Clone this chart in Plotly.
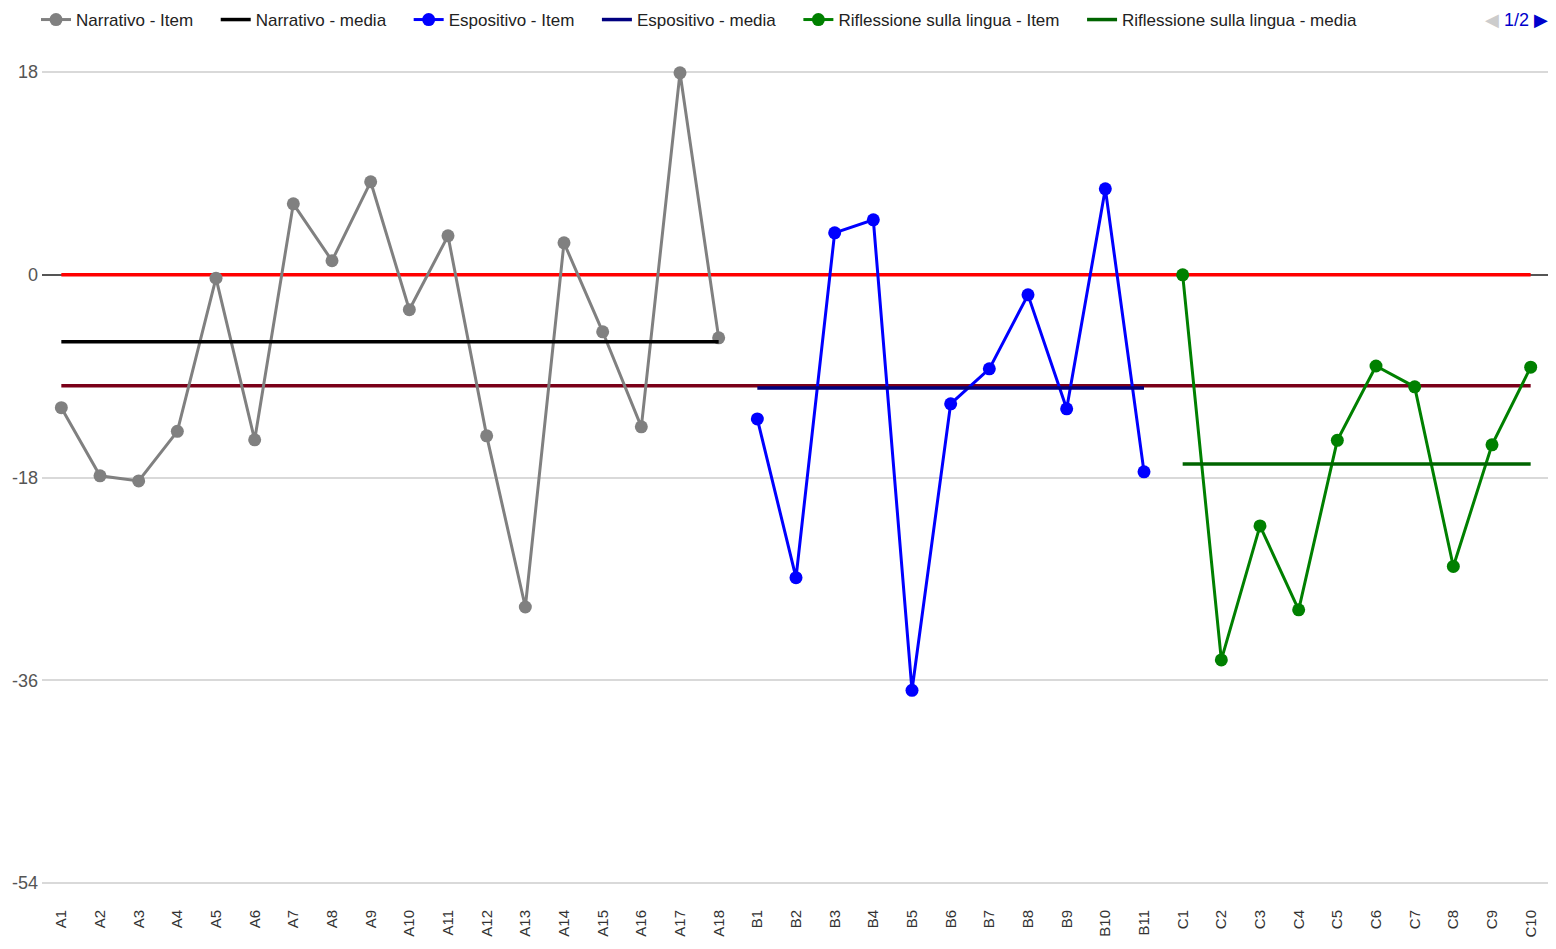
import plotly.graph_objects as go

cat_a = [f"A{i}" for i in range(1, 19)]
cat_b = [f"B{i}" for i in range(1, 12)]
cat_c = [f"C{i}" for i in range(1, 11)]
categories = cat_a + cat_b + cat_c

narrativo = [-11.8, -17.85, -18.3, -13.9, -0.3, -14.65, 6.3, 1.25, 8.26, -3.1,
             3.46, -14.3, -29.5, 2.84, -5.06, -13.5, 17.94, -5.6]
espositivo = [-12.8, -26.9, 3.73, 4.88, -36.9, -11.46, -8.35, -1.78, -11.9, 7.64, -17.5]
riflessione = [0.0, -34.2, -22.3, -29.75, -14.7, -8.1, -9.95, -25.9, -15.1, -8.2]

media_narrativo = -5.95
media_espositivo = -10.05
media_riflessione = -16.8
media_generale = -9.86
riferimento = 0.0

y_ticks = [18, 0, -18, -36, -54]

FONT = "Liberation Sans, Arial, sans-serif"
W, H = 1548, 941  # page body has an 8px margin
MT, MB = 63, 65
PH = H - MT - MB
PAD = "\u00a0" * 3 + "\u2009"

fig = go.Figure()

fig.add_trace(go.Scatter(x=categories, y=[riferimento] * len(categories), mode="lines",
                         line=dict(color="#ff0000", width=3.5), name="Riferimento",
                         showlegend=False, hoverinfo="skip"))
fig.add_trace(go.Scatter(x=categories, y=[media_generale] * len(categories), mode="lines",
                         line=dict(color="#7a0019", width=3.5), name="Media generale",
                         showlegend=False, hoverinfo="skip"))

fig.add_trace(go.Scatter(x=cat_a, y=narrativo, mode="lines+markers", name="Narrativo - Item" + PAD,
                         line=dict(color="#808080", width=3), marker=dict(size=13, color="#808080"),
                         cliponaxis=False))
fig.add_trace(go.Scatter(x=cat_a, y=[media_narrativo] * len(cat_a), mode="lines", name="Narrativo - media" + PAD,
                         line=dict(color="#000000", width=3.5)))
fig.add_trace(go.Scatter(x=cat_b, y=espositivo, mode="lines+markers", name="Espositivo - Item" + PAD,
                         line=dict(color="#0000ff", width=3), marker=dict(size=13, color="#0000ff"),
                         cliponaxis=False))
fig.add_trace(go.Scatter(x=cat_b, y=[media_espositivo] * len(cat_b), mode="lines", name="Espositivo - media" + PAD,
                         line=dict(color="#000080", width=3.5)))
fig.add_trace(go.Scatter(x=cat_c, y=riflessione, mode="lines+markers", name="Riflessione sulla lingua - Item" + PAD,
                         line=dict(color="#008000", width=3), marker=dict(size=13, color="#008000"),
                         cliponaxis=False))
fig.add_trace(go.Scatter(x=cat_c, y=[media_riflessione] * len(cat_c), mode="lines", name="Riflessione sulla lingua - media",
                         line=dict(color="#006400", width=3.5)))

fig.update_layout(
    width=W, height=H,
    margin=dict(l=34, r=6, t=MT, b=MB),
    paper_bgcolor="white", plot_bgcolor="white",
    font=dict(family=FONT, size=16, color="#222222"),
    showlegend=True,
    legend=dict(orientation="h", xref="container", yref="container",
                x=28 / W, y=1 - 12 / H, xanchor="left", yanchor="middle",
                font=dict(family=FONT, size=17, color="#222222"),
                itemwidth=30, traceorder="normal", bgcolor="rgba(0,0,0,0)"),
    xaxis=dict(type="category", categoryorder="array", categoryarray=categories,
               range=[-0.5, len(categories) - 0.5], tickangle=-90,
               tickfont=dict(family=FONT, size=15, color="#333333"),
               showgrid=False, showline=False, ticks="", zeroline=False,
               ticklabelstandoff=22, automargin=False),
    yaxis=dict(range=[-54.1, 18.1], tickvals=y_ticks, ticktext=[str(v) for v in y_ticks],
               tickfont=dict(family=FONT, size=18, color="#555555"),
               showgrid=True, gridcolor="#d9d9d9", gridwidth=2,
               zeroline=True, zerolinecolor="#555555", zerolinewidth=2,
               showline=False, ticks="", ticklabelstandoff=3, automargin=False),
)

fig.add_annotation(xref="paper", yref="paper", x=1.0, y=1 + (MT - 12) / PH, xanchor="right",
                   yanchor="middle", showarrow=False,
                   text="<span style='color:#cccccc'>◀</span> <span style='color:#0000cc'>1/2 ▶</span>",
                   font=dict(family=FONT, size=18))

fig.write_html("out.html")
